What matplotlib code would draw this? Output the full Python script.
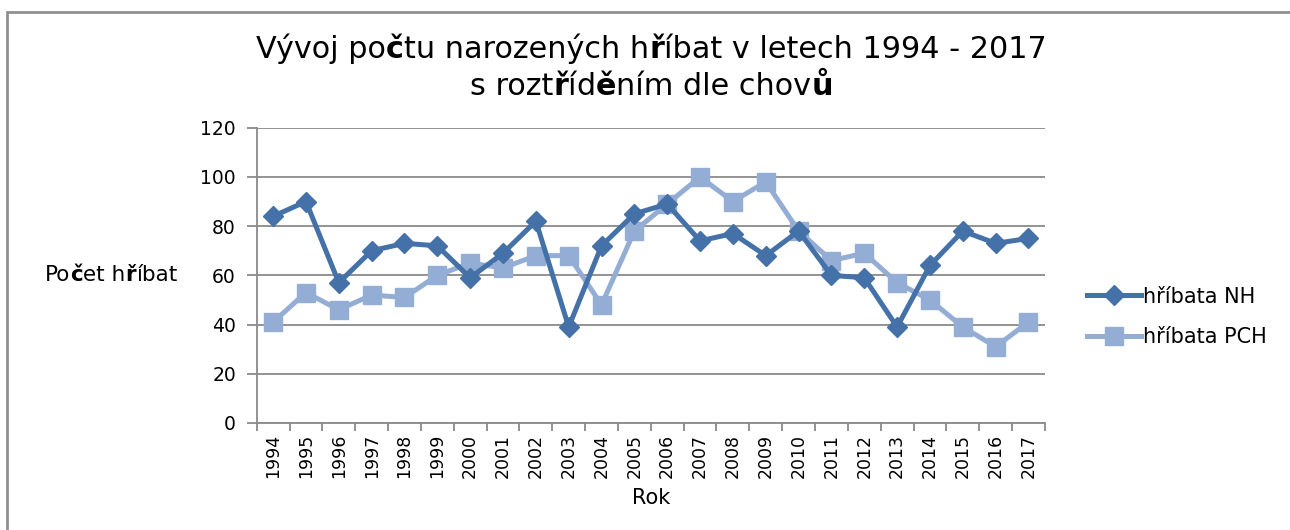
import numpy as np
import matplotlib
matplotlib.use("Agg")
import matplotlib.pyplot as plt
from matplotlib.offsetbox import TextArea, HPacker, AnchoredOffsetbox
from matplotlib.patches import Rectangle

years = [str(y) for y in range(1994, 2018)]
nh = [84, 90, 57, 70, 73, 72, 59, 69, 82, 39, 72, 85, 89, 74, 77, 68, 78, 60, 59, 39, 64, 78, 73, 75]
pch = [41, 53, 46, 52, 51, 60, 65, 63, 68, 68, 48, 78, 89, 100, 90, 98, 78, 66, 69, 57, 50, 39, 31, 41]
yticks = [0, 20, 40, 60, 80, 100, 120]

FONT = "DejaVu Sans"
plt.rcParams["font.family"] = [FONT]

C_NH = "#4371a8"
C_PCH = "#94add5"
GRID = "#8a8a8a"


def mixed(parts, size):
    # parts: list of (text, bold) -> one packed row of text
    boxes = [TextArea(t, textprops=dict(fontsize=size, fontweight="bold" if b else "normal",
                                        family=FONT, color="black"))
             for t, b in parts]
    return HPacker(children=boxes, align="baseline", pad=0, sep=0)


def main():
    fig = plt.figure(figsize=(12.9, 5.3), dpi=100)
    ax = fig.add_axes([0.199, 0.202, 0.611, 0.557])

    x = np.arange(len(years))
    ax.plot(x, nh, color=C_NH, lw=3.6, marker="D", ms=10.5, label="hříbata NH", zorder=3)
    ax.plot(x, pch, color=C_PCH, lw=3.6, marker="s", ms=13, label="hříbata PCH", zorder=2)

    ax.set_xlim(-0.5, len(years) - 0.5)
    ax.set_ylim(0, 120)
    ax.set_yticks(yticks)
    ax.set_yticklabels([str(v) for v in yticks], fontsize=13.5)
    ax.yaxis.grid(True, color=GRID, lw=1.3)
    ax.set_axisbelow(True)

    ax.set_xticks(x)
    ax.set_xticklabels(years, rotation=90, fontsize=12.5)
    ax.set_xticks(np.arange(-0.5, len(years)), minor=True)
    ax.tick_params(axis="x", which="major", length=0, pad=8)
    ax.tick_params(axis="x", which="minor", length=6, width=1.3, color=GRID, direction="out")
    ax.tick_params(axis="y", length=7, width=1.3, color=GRID, pad=8)

    for s in ["top", "right"]:
        ax.spines[s].set_visible(False)
    for s in ["left", "bottom"]:
        ax.spines[s].set_color(GRID)
        ax.spines[s].set_linewidth(1.3)

    fig.text(0.505, 0.06, "Rok", ha="center", va="center", fontsize=15)

    # y label with bold č, ř
    ylab = mixed([("Po", False), ("č", True), ("et h", False), ("ř", True), ("íbat", False)], 15.5)
    fig.add_artist(AnchoredOffsetbox(loc="center left", child=ylab, frameon=False, pad=0,
                                     borderpad=0, bbox_to_anchor=(0.035, 0.481),
                                     bbox_transform=fig.transFigure))

    t1 = mixed([("Vývoj po", False), ("č", True), ("tu narozených h", False), ("ř", True),
                ("íbat v letech 1994 - 2017", False)], 21.8)
    t2 = mixed([("s rozt", False), ("ř", True), ("í", False), ("d", False), ("ě", True),
                ("ním dle chov", False), ("ů", True)], 21.8)
    for box, yy in [(t1, 0.908), (t2, 0.836)]:
        fig.add_artist(AnchoredOffsetbox(loc="center", child=box, frameon=False, pad=0,
                                         borderpad=0, bbox_to_anchor=(0.505, yy),
                                         bbox_transform=fig.transFigure))

    fig.legend(loc="center left", bbox_to_anchor=(0.828, 0.402), frameon=False,
               fontsize=15, handlelength=2.6, handletextpad=0.1, labelspacing=1.0)

    fig.add_artist(Rectangle((7 / 1290, -0.1), 1.2, (530 - 12) / 530 + 0.1,
                             transform=fig.transFigure, fill=False, edgecolor="#909090", lw=2))

    fig.savefig("out.png", dpi=100)


if __name__ == "__main__":
    main()
